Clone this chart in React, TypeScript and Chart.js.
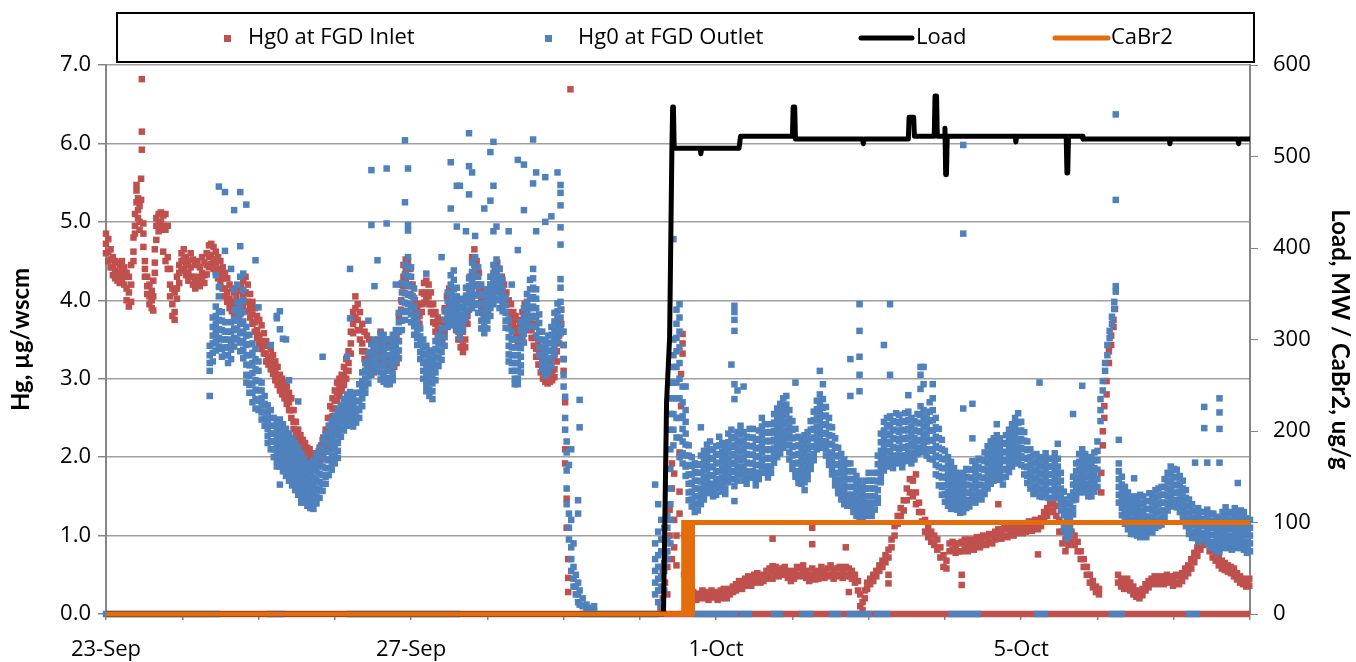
import React, { useEffect, useRef } from "react";
import { Chart, registerables } from "chart.js";

Chart.register(...registerables);

// x values are days since 23-Sep 00:00
const dayLabels = ["23-Sep", "", "", "", "27-Sep", "", "", "", "1-Oct", "", "", "", "5-Oct", "", "", ""];

// Hg0 at FGD Inlet: [day, value, value, ...]
const inletRows: number[][] = [
  [0.0, 4.85, 4.72, 4.6], [0.03, 4.78, 4.62, 4.5], [0.06, 4.65, 4.52, 4.42], [0.09, 4.55, 4.42, 4.32], [0.12, 4.5, 4.38, 4.28],
  [0.15, 4.48, 4.36, 4.25], [0.18, 4.45, 4.33, 4.22], [0.21, 4.5, 4.38, 4.27], [0.24, 4.42, 4.3, 4.2], [0.27, 4.35, 4.15, 4.0],
  [0.3, 4.3, 4.1, 3.92], [0.33, 4.45, 4.2, 3.98], [0.36, 4.62, 4.8, 4.5], [0.38, 4.95, 5.1, 4.85], [0.4, 5.25, 5.4, 5.47],
  [0.42, 5.3, 5.15, 5.05], [0.44, 5.2, 5.0, 4.9], [0.46, 5.55, 5.28], [0.47, 6.82, 6.15, 5.92], [0.49, 4.98, 4.85, 4.68],
  [0.51, 4.5, 4.4, 4.3], [0.54, 4.3, 4.18, 4.08], [0.57, 4.2, 4.05, 3.95], [0.6, 4.12, 4.0, 3.9], [0.62, 4.25, 4.05, 3.87],
  [0.64, 4.48, 4.65, 4.35], [0.66, 4.77, 4.95, 5.05], [0.69, 5.1, 4.98, 4.88], [0.72, 5.12, 5.0, 4.9], [0.75, 5.08, 4.95, 4.62],
  [0.78, 5.1, 4.9, 4.5], [0.81, 4.95, 4.55, 4.4], [0.84, 4.4, 4.2, 4.05], [0.87, 4.15, 3.95, 3.8], [0.9, 4.1, 3.85, 3.75],
  [0.93, 4.3, 4.15, 4.02], [0.96, 4.45, 4.35, 4.22], [0.99, 4.6, 4.5, 4.38], [1.02, 4.65, 4.52, 4.4], [1.05, 4.55, 4.45, 4.32],
  [1.08, 4.5, 4.35, 4.25], [1.11, 4.6, 4.42, 4.3], [1.14, 4.52, 4.3, 4.2], [1.17, 4.45, 4.25, 4.15], [1.2, 4.5, 4.3, 4.2],
  [1.23, 4.42, 4.28, 4.18], [1.26, 4.55, 4.35, 4.25], [1.29, 4.48, 4.32, 4.22], [1.32, 4.6, 4.45, 4.33], [1.35, 4.7, 4.55, 4.42],
  [1.38, 4.72, 4.58, 4.46], [1.41, 4.68, 4.52, 4.4], [1.44, 4.62, 4.48, 4.36], [1.47, 4.55, 4.4, 4.28], [1.5, 4.5, 4.35, 4.22],
  [1.53, 4.42, 4.28, 4.15], [1.56, 4.35, 4.15, 4.05], [1.59, 4.28, 4.1, 3.98], [1.62, 4.2, 4.02, 3.9], [1.65, 4.15, 3.98, 3.86],
  [1.68, 4.1, 3.92, 3.8], [1.71, 4.05, 3.85, 3.75], [1.74, 4.12, 3.9, 3.8], [1.77, 4.18, 3.95, 3.84], [1.8, 4.25, 4.05, 3.92],
  [1.83, 4.3, 4.1, 3.98], [1.86, 4.2, 3.98, 3.86], [1.89, 4.08, 3.9, 3.78], [1.92, 3.98, 3.82, 3.7], [1.95, 3.9, 3.72, 3.6],
  [1.98, 3.8, 3.62, 3.52], [2.01, 3.75, 3.55, 3.45], [2.04, 3.68, 3.48, 3.38], [2.07, 3.58, 3.42, 3.32], [2.1, 3.48, 3.32, 3.22],
  [2.13, 3.42, 3.28, 3.18], [2.16, 3.38, 3.22, 3.12], [2.19, 3.3, 3.15, 3.06], [2.22, 3.22, 3.08, 2.98], [2.25, 3.15, 3.0, 2.92],
  [2.28, 3.05, 2.95, 2.85], [2.31, 3.0, 2.9, 2.8], [2.34, 2.95, 2.85, 2.75], [2.37, 2.9, 2.78, 2.68], [2.4, 2.82, 2.7, 2.6],
  [2.43, 2.75, 2.6, 2.5], [2.46, 2.6, 2.45, 2.36], [2.49, 2.45, 2.35, 2.27], [2.52, 2.35, 2.25, 2.18], [2.55, 2.28, 2.2, 2.12],
  [2.58, 2.22, 2.15, 2.07], [2.61, 2.18, 2.1, 2.03], [2.64, 2.12, 2.05, 1.98], [2.67, 2.1, 2.02, 1.95], [2.7, 2.05, 1.98, 1.92],
  [2.73, 2.05, 1.97, 1.9], [2.76, 2.02, 1.96, 1.9], [2.79, 2.08, 2.0, 1.93], [2.82, 2.15, 2.05, 1.97], [2.85, 2.25, 2.12, 2.04],
  [2.88, 2.35, 2.22, 2.13], [2.91, 2.5, 2.35, 2.25], [2.94, 2.65, 2.5, 2.4], [2.97, 2.75, 2.62, 2.52], [3.0, 2.85, 2.72, 2.62],
  [3.03, 2.95, 2.82, 2.72], [3.06, 3.0, 2.88, 2.78], [3.09, 3.05, 2.95, 2.85], [3.12, 3.15, 3.02, 2.92], [3.15, 3.25, 3.1, 3.0],
  [3.18, 3.35, 3.2, 3.1], [3.21, 3.6, 3.45, 3.32], [3.24, 3.85, 3.7, 3.58], [3.27, 4.05, 3.9, 3.78], [3.3, 3.95, 3.75, 3.62],
  [3.33, 3.85, 3.62, 3.5], [3.36, 3.7, 3.45, 3.35], [3.39, 3.6, 3.35, 3.25], [3.42, 3.55, 3.25, 3.15], [3.45, 3.5, 3.3, 3.18],
  [3.48, 3.45, 3.2, 3.1], [3.51, 3.4, 3.18, 3.08], [3.54, 3.35, 3.2, 3.1], [3.57, 3.5, 3.3, 3.2], [3.6, 3.6, 3.4, 3.28],
  [3.63, 3.55, 3.35, 3.25], [3.66, 3.5, 3.3, 3.2], [3.69, 3.45, 3.28, 3.18], [3.72, 3.5, 3.25, 3.15], [3.75, 3.45, 3.22, 3.12],
  [3.78, 3.48, 3.25, 3.15], [3.81, 3.55, 3.3, 3.2], [3.84, 3.8, 3.6, 3.48], [3.87, 4.2, 4.0, 3.88], [3.9, 4.45, 4.3, 4.18],
  [3.93, 4.52, 4.38, 4.25], [3.96, 4.5, 4.3, 4.18], [3.99, 4.4, 4.2, 4.08], [4.02, 4.2, 4.05, 3.95], [4.05, 4.0, 3.85, 3.75],
  [4.08, 3.9, 3.75, 3.65], [4.11, 3.95, 3.8, 3.7], [4.14, 4.1, 3.95, 3.85], [4.17, 4.22, 4.08, 3.97], [4.2, 4.25, 4.1, 4.0],
  [4.23, 4.2, 4.05, 3.95], [4.26, 4.1, 3.95, 3.85], [4.29, 3.95, 3.82, 3.72], [4.32, 3.85, 3.7, 3.6], [4.35, 3.78, 3.62, 3.52],
  [4.38, 3.72, 3.58, 3.48], [4.41, 3.75, 3.6, 3.5], [4.44, 3.9, 3.7, 3.6], [4.47, 4.05, 3.85, 3.75], [4.5, 4.15, 3.95, 3.85],
  [4.53, 4.1, 3.9, 3.8], [4.56, 4.0, 3.82, 3.72], [4.59, 3.9, 3.72, 3.62], [4.62, 3.8, 3.6, 3.5], [4.65, 3.7, 3.5, 3.4],
  [4.68, 3.6, 3.42, 3.34], [4.71, 3.7, 3.5, 3.4], [4.74, 4.0, 3.8, 3.7], [4.77, 4.3, 4.1, 4.0], [4.8, 4.55, 4.35, 4.25],
  [4.83, 4.65, 4.45, 4.33], [4.86, 4.5, 4.3, 4.2], [4.89, 4.35, 4.2, 4.1], [4.92, 4.15, 4.0, 3.9], [4.95, 4.1, 3.92, 3.82],
  [4.98, 4.05, 3.9, 3.8], [5.01, 4.1, 3.95, 3.85], [5.04, 4.2, 4.05, 3.95], [5.07, 4.3, 4.12, 4.02], [5.1, 4.42, 4.25, 4.15],
  [5.13, 4.48, 4.3, 4.2], [5.16, 4.4, 4.22, 4.12], [5.19, 4.3, 4.15, 4.05], [5.22, 4.2, 4.05, 3.95], [5.25, 4.1, 3.95, 3.85],
  [5.28, 4.0, 3.85, 3.75], [5.31, 3.95, 3.78, 3.68], [5.34, 3.85, 3.72, 3.62], [5.37, 3.8, 3.65, 3.55], [5.4, 3.75, 3.58, 3.48],
  [5.43, 3.7, 3.5, 3.4], [5.46, 3.85, 3.62, 3.52], [5.49, 3.95, 3.75, 3.65], [5.52, 3.98, 3.8, 3.7], [5.55, 3.9, 3.72, 3.62],
  [5.58, 3.8, 3.62, 3.52], [5.61, 3.7, 3.52, 3.42], [5.64, 3.55, 3.38, 3.28], [5.67, 3.45, 3.28, 3.18], [5.7, 3.35, 3.18, 3.08],
  [5.73, 3.25, 3.1, 3.0], [5.76, 3.2, 3.05, 2.96], [5.79, 3.15, 3.02, 2.94], [5.82, 3.2, 3.05, 2.96], [5.85, 3.25, 3.08, 2.98],
  [5.88, 3.3, 3.12, 3.02], [5.91, 3.5, 3.35, 3.22], [5.94, 3.75, 3.55, 3.45], [5.97, 3.88, 3.7, 3.6], [6.0, 3.43, 3.25, 3.1],
  [6.02, 2.7, 2.1, 1.92], [6.04, 1.47, 1.1], [6.06, 0.7, 0.46, 0.28], [6.09, 6.69],
  [7.27, 0.3, 0.08], [7.3, 0.55, 0.2], [7.33, 0.78, 0.96, 0.4], [7.36, 0.6, 0.25], [7.39, 1.33, 1.0],
  [7.42, 1.6, 1.92, 0.7], [7.45, 1.79, 1.2, 0.85], [7.48, 1.0, 0.62], [7.52, 2.06, 1.56, 1.28], [7.54, 2.65, 3.06],
  [7.56, 3.32, 3.45, 3.57], [7.58, 1.0, 0.5], [7.62, 0.42, 0.28], [7.66, 0.3, 0.22], [7.7, 0.28, 0.2],
  [7.74, 0.25, 0.18], [7.78, 0.26, 0.2], [7.82, 0.3, 0.22], [7.86, 0.28, 0.2], [7.9, 0.25, 0.18],
  [7.94, 0.3, 0.22], [7.98, 0.28, 0.21], [8.02, 0.25, 0.18], [8.06, 0.3, 0.2], [8.1, 0.32, 0.24],
  [8.14, 0.28, 0.2], [8.18, 0.32, 0.25], [8.22, 0.35, 0.28], [8.26, 0.38, 0.3], [8.3, 0.42, 0.33],
  [8.34, 0.4, 0.32], [8.38, 0.45, 0.36], [8.42, 0.48, 0.38], [8.46, 0.45, 0.36], [8.5, 0.5, 0.4],
  [8.54, 0.52, 0.42], [8.58, 0.48, 0.4], [8.62, 0.5, 0.42], [8.66, 0.55, 0.45], [8.7, 0.58, 0.48],
  [8.74, 0.55, 0.45, 0.96, 0.61], [8.78, 0.6, 0.5], [8.82, 0.55, 0.48], [8.86, 0.58, 0.5], [8.9, 0.6, 0.52],
  [8.94, 0.55, 0.46], [8.98, 0.5, 0.42], [9.02, 0.55, 0.45], [9.06, 0.6, 0.5], [9.1, 0.58, 0.48],
  [9.14, 0.62, 0.52], [9.18, 0.55, 0.46], [9.22, 0.5, 0.42], [9.26, 0.58, 0.48, 1.1, 0.89], [9.3, 0.52, 0.44],
  [9.34, 0.55, 0.45], [9.38, 0.6, 0.5], [9.42, 0.55, 0.46], [9.46, 0.58, 0.48], [9.5, 0.62, 0.5],
  [9.54, 0.55, 0.45], [9.58, 0.58, 0.48], [9.62, 0.6, 0.5], [9.66, 0.55, 0.46], [9.7, 0.6, 0.5, 0.85],
  [9.74, 0.58, 0.48, 0.28], [9.78, 0.55, 0.45], [9.82, 0.5, 0.4], [9.86, 0.42, 0.3], [9.89, 0.25, 0.1],
  [9.92, 0.15, 0.05], [9.95, 0.3, 0.2], [9.98, 0.4, 0.32], [10.02, 0.45, 0.38], [10.06, 0.5, 0.42],
  [10.1, 0.55, 0.48], [10.14, 0.62, 0.55], [10.18, 0.68, 0.6], [10.22, 0.75, 0.66], [10.26, 0.82, 0.72, 0.5, 0.39],
  [10.3, 0.95, 0.85], [10.34, 1.12, 1.0], [10.38, 1.25, 1.15], [10.42, 1.35, 1.25], [10.46, 1.45, 1.32],
  [10.5, 1.6, 1.45], [10.54, 1.72, 1.55], [10.58, 1.7, 1.5], [10.62, 1.55, 1.4, 2.04, 1.78], [10.66, 1.42, 1.3],
  [10.7, 1.3, 1.18], [10.74, 1.2, 1.05], [10.78, 1.1, 0.98], [10.82, 1.05, 0.92], [10.86, 1.0, 0.88],
  [10.9, 0.95, 0.82], [10.94, 0.85, 0.72], [10.98, 0.75, 0.6], [11.02, 0.68, 0.58], [11.06, 0.9, 0.8],
  [11.1, 0.92, 0.82], [11.14, 0.88, 0.78], [11.18, 0.9, 0.8], [11.22, 0.92, 0.8, 0.5, 0.37], [11.26, 0.95, 0.85],
  [11.3, 0.9, 0.8], [11.34, 0.95, 0.85], [11.38, 0.92, 0.82], [11.42, 0.98, 0.88], [11.46, 0.95, 0.85],
  [11.5, 1.0, 0.9], [11.54, 0.98, 0.88], [11.58, 1.02, 0.92], [11.62, 1.0, 0.9], [11.66, 1.05, 0.95],
  [11.7, 1.08, 0.98, 1.4], [11.74, 1.05, 0.96], [11.78, 1.1, 1.0], [11.82, 1.08, 0.98], [11.86, 1.12, 1.02],
  [11.9, 1.1, 1.0], [11.94, 1.12, 1.03], [11.98, 1.15, 1.05], [12.02, 1.12, 1.03], [12.06, 1.15, 1.05],
  [12.1, 1.18, 1.08], [12.14, 1.15, 1.06], [12.18, 1.2, 1.1], [12.22, 1.18, 1.08, 0.76], [12.26, 1.22, 1.12],
  [12.3, 1.3, 1.2], [12.34, 1.35, 1.25], [12.38, 1.4, 1.3], [12.42, 1.42, 1.32], [12.46, 1.38, 1.25],
  [12.5, 1.2, 1.05], [12.54, 1.05, 0.9], [12.58, 0.95, 0.8], [12.62, 1.0, 0.88], [12.66, 1.05, 0.92],
  [12.7, 1.0, 0.88], [12.74, 0.92, 0.8], [12.78, 0.8, 0.7], [12.82, 0.7, 0.6], [12.86, 0.6, 0.5],
  [12.9, 0.5, 0.4], [12.94, 0.42, 0.34], [12.98, 0.35, 0.28], [13.02, 0.32, 0.25], [13.05, 1.55, 1.8],
  [13.07, 2.15, 2.33], [13.09, 2.5, 2.65], [13.12, 2.8, 2.97], [13.15, 3.2, 3.35], [13.18, 3.43, 3.55],
  [13.21, 3.66, 3.75], [13.23, 3.89], [13.27, 0.5, 0.4], [13.31, 0.45, 0.35], [13.35, 0.42, 0.32],
  [13.39, 0.45, 0.35], [13.43, 0.4, 0.3], [13.47, 0.35, 0.25], [13.51, 0.3, 0.22], [13.55, 0.28, 0.2],
  [13.59, 0.32, 0.24], [13.63, 0.38, 0.3], [13.67, 0.42, 0.34], [13.71, 0.45, 0.38], [13.75, 0.48, 0.4],
  [13.79, 0.45, 0.38], [13.83, 0.48, 0.4], [13.87, 0.45, 0.38], [13.91, 0.5, 0.42], [13.95, 0.48, 0.4],
  [13.99, 0.45, 0.36], [14.03, 0.5, 0.4], [14.07, 0.48, 0.38], [14.11, 0.52, 0.42], [14.15, 0.58, 0.48],
  [14.19, 0.62, 0.52], [14.23, 0.7, 0.58], [14.27, 0.78, 0.66], [14.31, 0.85, 0.74], [14.35, 0.92, 0.82],
  [14.39, 0.98, 0.88], [14.43, 1.0, 0.9], [14.47, 0.9, 0.8], [14.51, 0.82, 0.72], [14.55, 0.78, 0.68],
  [14.59, 0.72, 0.62], [14.63, 0.68, 0.58], [14.67, 0.65, 0.56], [14.71, 0.62, 0.54], [14.75, 0.6, 0.52],
  [14.79, 0.58, 0.48], [14.83, 0.52, 0.44], [14.87, 0.48, 0.4], [14.91, 0.45, 0.38], [14.95, 0.42, 0.35],
  [14.99, 0.45, 0.36],
];

// Hg0 at FGD Outlet: [day, value, value, ...]
const outletRows: number[][] = [
  [1.36, 3.42, 3.3, 3.2, 3.1, 2.78], [1.4, 3.78, 3.66, 3.55, 3.45, 3.33, 3.22], [1.44, 3.92, 3.8, 3.7, 3.58, 3.47, 3.36, 4.32],
  [1.48, 4.17, 4.05, 3.86, 3.75, 3.63, 3.52, 3.41, 5.45], [1.52, 3.85, 3.74, 3.62, 3.5, 3.38, 3.28],
  [1.56, 3.72, 3.6, 3.5, 3.4, 3.3, 5.38, 4.63], [1.6, 3.6, 3.5, 3.4, 3.3, 3.2], [1.64, 3.72, 3.6, 3.48, 3.37, 3.25, 4.4],
  [1.68, 3.88, 3.76, 3.64, 3.52, 3.41, 5.15, 4.13], [1.72, 3.98, 3.86, 3.74, 3.62, 3.5, 4.2],
  [1.76, 3.94, 3.82, 3.7, 3.58, 3.46, 3.35, 4.3, 4.69, 5.38], [1.8, 3.85, 3.73, 3.6, 3.48, 3.37, 3.26, 4.34, 4.0, 4.13],
  [1.84, 3.66, 3.55, 3.43, 3.3, 3.18, 3.05, 2.95, 5.22], [1.88, 3.56, 3.44, 3.3, 3.17, 3.04, 2.92, 2.82],
  [1.92, 3.45, 3.33, 3.2, 3.07, 2.94, 2.82, 2.7], [1.96, 3.38, 3.25, 3.12, 2.98, 2.86, 2.74, 2.62, 4.51],
  [2.0, 3.22, 3.1, 2.97, 2.85, 2.72, 2.6, 3.91], [2.04, 2.95, 2.85, 2.75, 2.66, 2.57, 2.48], [2.08, 2.78, 2.68, 2.58, 2.49, 2.4],
  [2.12, 2.66, 2.56, 2.46, 2.36, 2.27, 2.18], [2.16, 2.6, 2.5, 2.4, 2.3, 2.2, 2.1, 3.43], [2.2, 2.5, 2.4, 2.3, 2.2, 2.1, 2.0],
  [2.24, 2.44, 2.35, 2.25, 2.15, 2.05, 1.95, 1.88, 3.77, 3.8], [2.28, 2.48, 2.38, 2.28, 2.18, 2.08, 1.98, 1.88, 3.63, 3.86, 1.65],
  [2.32, 2.42, 2.32, 2.22, 2.12, 2.02, 1.92, 1.82, 3.51], [2.36, 2.36, 2.26, 2.16, 2.06, 1.96, 1.86, 1.76, 3.5],
  [2.4, 2.3, 2.2, 2.1, 2.0, 1.9, 1.8, 1.7, 2.98], [2.44, 2.24, 2.14, 2.04, 1.94, 1.84, 1.74, 1.64],
  [2.48, 2.18, 2.08, 1.98, 1.88, 1.78, 1.68, 1.58], [2.52, 2.12, 2.02, 1.92, 1.82, 1.72, 1.62, 1.52, 2.71],
  [2.56, 2.05, 1.95, 1.85, 1.75, 1.65, 1.55, 1.45, 1.42], [2.6, 1.98, 1.88, 1.78, 1.68, 1.58, 1.5, 1.42],
  [2.64, 1.92, 1.82, 1.72, 1.63, 1.54, 1.46, 1.38], [2.68, 1.9, 1.8, 1.7, 1.61, 1.52, 1.43, 1.35],
  [2.72, 1.96, 1.85, 1.74, 1.64, 1.54, 1.44, 1.34], [2.76, 2.04, 1.93, 1.82, 1.71, 1.6, 1.5, 1.41],
  [2.8, 2.12, 2.01, 1.9, 1.79, 1.68, 1.58, 1.48], [2.84, 2.22, 2.1, 1.99, 1.88, 1.77, 1.66, 1.57, 3.28],
  [2.88, 2.3, 2.19, 2.08, 1.97, 1.86, 1.75, 1.66], [2.92, 2.4, 2.29, 2.18, 2.07, 1.96, 1.86, 1.77],
  [2.96, 2.46, 2.35, 2.24, 2.13, 2.02, 1.92, 1.84], [3.0, 2.53, 2.42, 2.31, 2.2, 2.1, 2.0, 1.92],
  [3.04, 2.6, 2.49, 2.38, 2.28, 2.18, 2.08, 1.99], [3.08, 2.66, 2.56, 2.46, 2.36, 2.26], [3.12, 2.74, 2.64, 2.54, 2.44, 2.34],
  [3.16, 2.8, 2.7, 2.6, 2.5, 2.4, 3.28], [3.2, 2.83, 2.73, 2.63, 2.53, 2.44, 4.4, 3.77], [3.24, 2.78, 2.68, 2.58, 2.48, 2.39],
  [3.28, 2.82, 2.72, 2.62, 2.52, 2.44], [3.32, 2.93, 2.82, 2.71, 2.6, 2.5], [3.36, 3.08, 2.97, 2.86, 2.75, 2.65],
  [3.4, 3.2, 3.1, 3.0, 2.9, 2.82], [3.44, 3.33, 3.23, 3.13, 3.03, 2.94, 3.74], [3.48, 3.44, 3.34, 3.24, 3.14, 3.05, 5.66, 4.96],
  [3.52, 3.5, 3.4, 3.3, 3.2, 3.12, 4.18], [3.56, 3.48, 3.38, 3.28, 3.18, 3.1, 4.51], [3.6, 3.58, 3.48, 3.38, 3.28, 3.18, 3.08, 2.99],
  [3.64, 3.56, 3.46, 3.36, 3.26, 3.16, 3.06, 2.96], [3.68, 3.5, 3.4, 3.3, 3.2, 3.1, 3.0, 2.93, 5.68, 4.98],
  [3.72, 3.5, 3.4, 3.3, 3.2, 3.1, 3.01, 2.93], [3.76, 3.56, 3.46, 3.36, 3.26, 3.16, 3.06, 2.98], [3.8, 3.62, 3.52, 3.42, 3.32, 3.22, 4.2],
  [3.84, 3.84, 3.72, 3.6, 3.48, 3.36, 3.26], [3.88, 4.22, 4.1, 3.98, 3.86, 3.74, 3.62],
  [3.92, 4.45, 4.33, 4.21, 4.09, 3.97, 3.85, 3.75, 6.04, 5.25], [3.96, 4.55, 4.43, 4.31, 4.19, 4.07, 3.95, 3.86, 4.96, 5.68, 4.89],
  [4.0, 4.42, 4.3, 4.18, 4.06, 3.94, 3.82, 3.72], [4.04, 4.15, 4.03, 3.91, 3.79, 3.67, 3.56], [4.08, 3.82, 3.72, 3.62, 3.52, 3.43],
  [4.12, 3.64, 3.54, 3.44, 3.34, 3.25], [4.16, 3.5, 3.4, 3.3, 3.2, 3.1, 3.0], [4.2, 3.42, 3.32, 3.22, 3.12, 3.02, 2.92, 2.84, 4.34],
  [4.24, 3.36, 3.26, 3.16, 3.06, 2.96, 2.86, 2.78], [4.28, 3.34, 3.24, 3.14, 3.04, 2.94, 2.84, 2.74],
  [4.32, 3.48, 3.38, 3.28, 3.18, 3.08, 2.98], [4.36, 3.56, 3.46, 3.36, 3.26, 3.16], [4.4, 3.64, 3.54, 3.44, 3.34, 3.24, 4.55],
  [4.44, 3.86, 3.75, 3.64, 3.53, 3.42], [4.48, 4.1, 3.99, 3.88, 3.77, 3.66], [4.52, 4.32, 4.2, 4.08, 3.96, 3.84, 3.72, 5.76, 5.17],
  [4.56, 4.38, 4.26, 4.14, 4.02, 3.9, 3.78, 3.68], [4.6, 4.16, 4.05, 3.94, 3.83, 3.72, 3.62, 5.46, 4.94],
  [4.64, 4.0, 3.9, 3.8, 3.7, 3.6, 3.52, 5.46], [4.68, 4.02, 3.92, 3.82, 3.72, 3.63], [4.72, 4.16, 4.06, 3.96, 3.86, 3.77, 4.88],
  [4.76, 4.28, 4.18, 4.08, 3.98, 3.88, 5.71, 6.13, 5.35], [4.8, 4.48, 4.36, 4.24, 4.12, 4.0, 3.9, 5.63],
  [4.84, 4.55, 4.43, 4.31, 4.19, 4.07, 3.96, 4.82], [4.88, 4.42, 4.3, 4.18, 4.06, 3.94, 3.84],
  [4.92, 4.2, 4.08, 3.96, 3.85, 3.74, 3.64], [4.96, 4.06, 3.96, 3.86, 3.76, 3.66, 3.58, 5.17],
  [5.0, 4.14, 4.04, 3.94, 3.84, 3.74, 3.64], [5.04, 4.3, 4.2, 4.1, 4.0, 3.9, 3.8, 5.89, 5.27],
  [5.08, 4.45, 4.35, 4.25, 4.15, 4.05, 3.95, 6.02, 5.46, 4.88], [5.12, 4.52, 4.42, 4.32, 4.22, 4.12, 4.02, 4.94],
  [5.16, 4.4, 4.3, 4.2, 4.1, 4.0, 3.9], [5.2, 4.26, 4.16, 4.06, 3.96, 3.86], [5.24, 4.04, 3.94, 3.84, 3.74, 3.65],
  [5.28, 3.75, 3.64, 3.53, 3.42, 3.31, 3.22, 4.88], [5.32, 3.6, 3.5, 3.4, 3.3, 3.2, 3.1, 4.2],
  [5.36, 3.5, 3.4, 3.3, 3.2, 3.1, 3.0, 2.93], [5.4, 3.5, 3.4, 3.3, 3.2, 3.1, 3.0, 2.93, 5.79, 4.64],
  [5.44, 3.72, 3.61, 3.5, 3.39, 3.28, 3.17, 3.08], [5.48, 3.9, 3.79, 3.68, 3.57, 3.46, 5.73, 5.15],
  [5.52, 4.08, 3.97, 3.86, 3.75, 3.65], [5.56, 4.26, 4.14, 4.02, 3.9, 3.78, 3.67],
  [5.6, 4.4, 4.28, 4.16, 4.04, 3.92, 3.8, 6.05, 5.49], [5.64, 4.14, 4.02, 3.9, 3.78, 3.66, 3.55, 4.88, 5.63],
  [5.68, 3.82, 3.71, 3.6, 3.5, 3.4, 3.3], [5.72, 3.6, 3.5, 3.4, 3.3, 3.2, 3.12], [5.76, 3.48, 3.38, 3.28, 3.18, 3.1, 3.04, 5.57, 5.0],
  [5.8, 3.55, 3.45, 3.35, 3.25, 3.15, 3.08], [5.84, 3.66, 3.56, 3.46, 3.36, 3.26, 3.16, 5.07],
  [5.88, 3.84, 3.73, 3.62, 3.51, 3.4, 3.32], [5.92, 3.96, 3.86, 3.76, 3.66, 3.56, 3.48, 5.63],
  [5.96, 3.98, 3.88, 3.78, 3.68, 3.58, 5.47, 5.37, 5.21, 4.93, 4.71, 4.27, 4.16],
  [6.0, 3.6, 3.43, 3.25, 3.05, 2.9], [6.02, 2.77, 2.5, 2.35], [6.04, 2.2, 2.06, 1.83, 1.6, 1.4], [6.07, 1.9, 1.28, 1.1, 0.95],
  [6.1, 2.1, 1.2, 0.85, 0.7, 0.55], [6.13, 0.9, 0.6, 0.45, 0.35], [6.16, 0.5, 0.35, 0.25], [6.19, 1.45, 1.28, 0.4, 0.25, 0.15],
  [6.21, 2.73, 2.38, 0.3, 0.12], [6.25, 0.2, 0.1], [6.3, 0.12, 0.05], [6.35, 0.08, 0.03], [6.4, 0.1, 0.04],
  [7.2, 1.65, 0.9, 0.7, 0.55, 0.4, 0.25], [7.24, 1.4, 1.05, 0.75, 0.6, 0.45, 0.3, 0.15], [7.28, 1.2, 0.95, 0.8, 0.6, 0.48, 0.35, 0.1],
  [7.32, 1.1, 0.95, 0.8, 0.65, 0.55, 0.3], [7.36, 1.4, 1.25, 1.1, 0.95, 0.8, 0.7],
  [7.4, 2.95, 2.75, 2.55, 2.35, 2.1, 1.85, 1.6, 1.4, 1.2, 0.9], [7.44, 3.5, 3.3, 3.15, 2.95, 2.75, 2.55, 2.35, 2.15, 4.78],
  [7.48, 3.88, 3.7, 3.52, 3.35, 3.15, 2.95, 2.75, 2.5, 2.25], [7.52, 3.95, 3.78, 3.6, 3.4, 3.2, 3.0, 2.75, 2.5, 2.25, 2.0],
  [7.56, 2.9, 2.7, 2.52, 2.36, 2.2, 2.05, 1.92], [7.6, 2.6, 2.45, 2.3, 2.16, 2.02, 1.88, 1.76, 2.9],
  [7.64, 2.15, 2.02, 1.9, 1.78, 1.66, 1.55, 1.45], [7.68, 2.0, 1.89, 1.78, 1.67, 1.56, 1.46, 1.37],
  [7.72, 1.92, 1.81, 1.7, 1.6, 1.5, 1.4, 1.3], [7.76, 1.9, 1.8, 1.7, 1.6, 1.5, 1.41, 1.32],
  [7.8, 2.02, 1.91, 1.8, 1.69, 1.58, 1.48, 1.4, 2.38], [7.84, 2.08, 1.97, 1.86, 1.75, 1.64, 1.54, 1.46],
  [7.88, 2.16, 2.05, 1.94, 1.83, 1.72, 1.62, 1.54], [7.92, 2.2, 2.09, 1.98, 1.87, 1.76, 1.66, 1.58],
  [7.96, 2.1, 1.99, 1.88, 1.77, 1.66, 1.56, 1.5], [8.0, 2.14, 2.03, 1.92, 1.81, 1.7, 1.6, 1.52],
  [8.04, 2.26, 2.15, 2.04, 1.93, 1.82, 1.72, 1.63], [8.08, 2.18, 2.07, 1.96, 1.85, 1.74, 1.64, 1.56],
  [8.12, 2.14, 2.03, 1.92, 1.81, 1.7, 1.6, 1.53], [8.16, 2.3, 2.19, 2.08, 1.97, 1.86, 1.76, 1.68],
  [8.2, 2.35, 2.24, 2.13, 2.02, 1.91, 1.81, 1.72, 3.18],
  [8.24, 2.26, 2.15, 2.04, 1.93, 1.82, 1.72, 1.63, 3.93, 3.75, 3.85, 3.61, 2.93, 2.74, 1.44],
  [8.28, 2.32, 2.21, 2.1, 1.99, 1.88, 1.78, 1.7, 2.85], [8.32, 2.4, 2.29, 2.18, 2.07, 1.96, 1.86, 1.78],
  [8.36, 2.32, 2.21, 2.1, 1.99, 1.88, 1.78, 1.7, 2.9], [8.4, 2.26, 2.15, 2.04, 1.93, 1.82, 1.73, 1.66],
  [8.44, 2.36, 2.25, 2.14, 2.03, 1.92, 1.82, 1.74], [8.48, 2.36, 2.25, 2.14, 2.03, 1.92, 1.82, 1.74],
  [8.52, 2.22, 2.11, 2.0, 1.9, 1.8, 1.71, 1.64], [8.56, 2.34, 2.23, 2.12, 2.01, 1.9, 1.8, 1.72],
  [8.6, 2.5, 2.39, 2.28, 2.17, 2.06, 1.96, 1.88], [8.64, 2.42, 2.31, 2.2, 2.09, 1.98, 1.88, 1.8],
  [8.68, 2.32, 2.21, 2.1, 1.99, 1.88, 1.8, 1.74], [8.72, 2.42, 2.31, 2.2, 2.09, 1.98, 1.88, 1.8],
  [8.76, 2.55, 2.44, 2.33, 2.22, 2.11, 2.01, 1.93], [8.8, 2.62, 2.51, 2.4, 2.29, 2.18, 2.08, 2.0],
  [8.84, 2.68, 2.57, 2.46, 2.35, 2.24, 2.14, 2.05], [8.88, 2.75, 2.64, 2.53, 2.42, 2.31, 2.21, 2.12],
  [8.92, 2.78, 2.67, 2.56, 2.45, 2.34, 2.24, 2.15], [8.96, 2.6, 2.49, 2.38, 2.27, 2.16, 2.06, 1.97],
  [9.0, 2.46, 2.35, 2.24, 2.13, 2.02, 1.92, 1.85], [9.04, 2.36, 2.25, 2.14, 2.03, 1.92, 1.82, 1.75, 2.95],
  [9.08, 2.26, 2.15, 2.04, 1.93, 1.82, 1.73, 1.67], [9.12, 2.22, 2.11, 2.0, 1.9, 1.8, 1.72, 1.66],
  [9.16, 2.28, 2.17, 2.06, 1.95, 1.84, 1.75, 1.68, 1.58], [9.2, 2.32, 2.21, 2.1, 1.99, 1.88, 1.79, 1.72],
  [9.24, 2.46, 2.35, 2.24, 2.13, 2.02, 1.92, 1.85], [9.28, 2.58, 2.47, 2.36, 2.25, 2.14, 2.04, 1.96],
  [9.32, 2.72, 2.61, 2.5, 2.39, 2.28, 2.18, 2.1], [9.36, 2.8, 2.69, 2.58, 2.47, 2.36, 2.26, 2.18, 3.1],
  [9.4, 2.74, 2.63, 2.52, 2.41, 2.3, 2.2, 2.12, 2.93], [9.44, 2.64, 2.53, 2.42, 2.31, 2.2, 2.1, 2.02],
  [9.48, 2.5, 2.39, 2.28, 2.17, 2.06, 1.97, 1.9], [9.52, 2.38, 2.27, 2.16, 2.05, 1.94, 1.85, 1.78],
  [9.56, 2.24, 2.13, 2.02, 1.91, 1.8, 1.71, 1.64], [9.6, 2.12, 2.01, 1.9, 1.79, 1.68, 1.6, 1.54],
  [9.64, 2.04, 1.93, 1.82, 1.71, 1.6, 1.52, 1.46], [9.68, 1.97, 1.86, 1.75, 1.64, 1.54, 1.46, 1.4],
  [9.72, 1.92, 1.82, 1.72, 1.62, 1.52, 1.44, 1.38], [9.76, 1.92, 1.82, 1.72, 1.62, 1.52, 1.44, 1.38, 3.25, 2.78],
  [9.8, 1.82, 1.72, 1.62, 1.52, 1.43, 1.36, 1.3], [9.84, 1.76, 1.66, 1.56, 1.46, 1.37, 1.3, 1.25],
  [9.88, 1.7, 1.6, 1.5, 1.41, 1.33, 1.26, 1.2, 3.95, 3.61, 2.84, 3.28, 3.05], [9.92, 1.62, 1.53, 1.44, 1.36, 1.28, 1.22],
  [9.96, 1.7, 1.6, 1.5, 1.41, 1.33, 1.25], [10.0, 1.8, 1.7, 1.6, 1.5, 1.41, 1.33, 1.26], [10.04, 1.7, 1.6, 1.5, 1.41, 1.33, 1.25],
  [10.08, 1.8, 1.7, 1.6, 1.5, 1.41, 1.33], [10.12, 2.02, 1.91, 1.8, 1.69, 1.58, 1.48, 1.42],
  [10.16, 2.3, 2.19, 2.08, 1.97, 1.86, 1.76, 1.68], [10.2, 2.45, 2.34, 2.23, 2.12, 2.01, 1.91, 1.83, 3.43],
  [10.24, 2.5, 2.39, 2.28, 2.17, 2.06, 1.96, 1.88], [10.28, 2.52, 2.41, 2.3, 2.19, 2.08, 1.98, 1.9, 3.95, 3.05],
  [10.32, 2.46, 2.35, 2.24, 2.13, 2.02, 1.93, 1.86], [10.36, 2.56, 2.45, 2.34, 2.23, 2.12, 2.02, 1.95],
  [10.4, 2.54, 2.43, 2.32, 2.21, 2.1, 2.0, 1.92], [10.44, 2.46, 2.35, 2.24, 2.13, 2.02, 1.93, 1.87],
  [10.48, 2.56, 2.45, 2.34, 2.23, 2.12, 2.02, 1.95], [10.52, 2.58, 2.47, 2.36, 2.25, 2.14, 2.04, 1.97, 2.79],
  [10.56, 2.5, 2.39, 2.28, 2.17, 2.06, 1.98, 1.92], [10.6, 2.46, 2.35, 2.24, 2.14, 2.05, 1.97],
  [10.64, 2.55, 2.44, 2.33, 2.22, 2.12, 2.04], [10.68, 2.65, 2.54, 2.43, 2.32, 2.21, 2.12, 2.06, 3.15, 3.05, 2.87],
  [10.72, 2.6, 2.49, 2.38, 2.27, 2.17, 2.08, 3.15, 2.93], [10.76, 2.52, 2.41, 2.3, 2.2, 2.1, 2.02],
  [10.8, 2.7, 2.58, 2.46, 2.34, 2.22, 2.1, 1.98], [10.84, 2.93, 2.75, 2.6, 2.47, 2.34, 2.21, 2.08, 1.97],
  [10.88, 2.5, 2.38, 2.26, 2.14, 2.02, 1.9, 1.78], [10.92, 2.36, 2.24, 2.12, 2.0, 1.88, 1.76, 1.64],
  [10.96, 2.22, 2.1, 1.98, 1.86, 1.74, 1.62, 1.52], [11.0, 2.08, 1.97, 1.86, 1.75, 1.64, 1.53, 1.43],
  [11.04, 2.0, 1.89, 1.78, 1.67, 1.56, 1.46, 1.38], [11.08, 1.94, 1.83, 1.72, 1.61, 1.5, 1.41, 1.34],
  [11.12, 1.86, 1.76, 1.66, 1.56, 1.46, 1.38], [11.16, 1.8, 1.7, 1.6, 1.5, 1.41, 1.33], [11.2, 1.76, 1.66, 1.56, 1.46, 1.37, 1.29],
  [11.24, 1.8, 1.7, 1.6, 1.5, 1.4, 1.3, 5.98, 4.85, 2.62], [11.28, 1.85, 1.75, 1.65, 1.55, 1.45, 1.35],
  [11.32, 1.84, 1.74, 1.64, 1.54, 1.45, 1.37], [11.36, 1.95, 1.84, 1.73, 1.62, 1.52, 1.44, 2.68, 2.24],
  [11.4, 1.9, 1.8, 1.7, 1.6, 1.5, 1.42], [11.44, 1.98, 1.87, 1.76, 1.65, 1.55, 1.47], [11.48, 1.96, 1.85, 1.74, 1.64, 1.54, 1.46],
  [11.52, 2.06, 1.95, 1.84, 1.73, 1.62, 1.53], [11.56, 2.14, 2.03, 1.92, 1.81, 1.7, 1.6], [11.6, 2.2, 2.09, 1.98, 1.87, 1.76, 1.66],
  [11.64, 2.24, 2.13, 2.02, 1.91, 1.8, 1.7], [11.68, 2.28, 2.17, 2.06, 1.95, 1.84, 1.75, 2.42],
  [11.72, 2.24, 2.13, 2.02, 1.91, 1.8, 1.71], [11.76, 2.18, 2.07, 1.96, 1.85, 1.74, 1.65], [11.8, 2.28, 2.17, 2.06, 1.95, 1.84, 1.75],
  [11.84, 2.35, 2.24, 2.13, 2.02, 1.91, 1.81], [11.88, 2.42, 2.31, 2.2, 2.09, 1.98, 1.88], [11.92, 2.5, 2.38, 2.26, 2.14, 2.02, 1.92],
  [11.96, 2.56, 2.44, 2.32, 2.2, 2.08, 1.96], [12.0, 2.45, 2.34, 2.23, 2.12, 2.01, 1.9], [12.04, 2.32, 2.21, 2.1, 1.99, 1.88, 1.78],
  [12.08, 2.2, 2.09, 1.98, 1.87, 1.76, 1.67], [12.12, 2.1, 2.0, 1.9, 1.8, 1.7, 1.6], [12.16, 2.02, 1.92, 1.82, 1.72, 1.62, 1.53],
  [12.2, 2.04, 1.94, 1.84, 1.74, 1.64, 1.54], [12.24, 2.0, 1.9, 1.8, 1.7, 1.6, 1.5, 2.95], [12.28, 1.98, 1.88, 1.78, 1.68, 1.58, 1.49],
  [12.32, 2.05, 1.95, 1.85, 1.75, 1.65, 1.55], [12.36, 1.98, 1.88, 1.78, 1.68, 1.58, 1.48], [12.4, 1.98, 1.88, 1.78, 1.68, 1.58, 1.48],
  [12.44, 2.05, 1.95, 1.85, 1.75, 1.65, 1.55], [12.48, 1.98, 1.88, 1.78, 1.68, 1.58, 1.48, 2.17],
  [12.52, 1.8, 1.7, 1.6, 1.5, 1.4, 1.32], [12.56, 1.56, 1.46, 1.36, 1.26, 1.16, 1.08], [12.6, 1.42, 1.32, 1.22, 1.12, 1.03, 0.96],
  [12.64, 1.5, 1.4, 1.3, 1.2, 1.1, 1.02], [12.68, 1.75, 1.65, 1.55, 1.45, 1.35, 1.27, 2.55], [12.72, 1.92, 1.82, 1.72, 1.62, 1.53, 1.46],
  [12.76, 2.04, 1.94, 1.84, 1.74, 1.64, 1.55], [12.8, 2.1, 2.0, 1.9, 1.8, 1.7, 1.6, 2.91], [12.84, 2.04, 1.94, 1.84, 1.74, 1.64, 1.55],
  [12.88, 1.96, 1.86, 1.76, 1.66, 1.57, 1.5], [12.92, 2.0, 1.9, 1.8, 1.7, 1.6, 1.5], [12.96, 2.06, 1.96, 1.86, 1.76, 1.66, 1.56],
  [13.0, 2.2, 2.08, 1.96, 1.84, 1.72, 1.62], [13.04, 2.74, 2.6, 2.46], [13.07, 2.97, 2.85], [13.1, 3.2, 3.1], [13.13, 3.43, 3.3],
  [13.16, 3.61, 3.52], [13.19, 3.79, 3.7], [13.22, 3.98, 3.89], [13.24, 4.18, 4.11, 6.37, 5.28],
  [13.28, 1.92, 1.82, 1.72, 1.62, 1.52, 1.42, 2.22], [13.32, 1.75, 1.65, 1.55, 1.45, 1.35, 1.26],
  [13.36, 1.62, 1.52, 1.42, 1.32, 1.23, 1.15], [13.4, 1.55, 1.45, 1.35, 1.25, 1.16, 1.08], [13.44, 1.48, 1.38, 1.28, 1.18, 1.09, 1.02],
  [13.48, 1.5, 1.4, 1.3, 1.2, 1.1, 1.02, 1.73], [13.52, 1.46, 1.36, 1.26, 1.16, 1.07, 1.0], [13.56, 1.42, 1.32, 1.22, 1.12, 1.04, 0.98, 1.52],
  [13.6, 1.5, 1.4, 1.3, 1.2, 1.1, 1.02], [13.64, 1.44, 1.34, 1.24, 1.14, 1.05, 0.98], [13.68, 1.54, 1.44, 1.34, 1.24, 1.14, 1.06],
  [13.72, 1.52, 1.42, 1.32, 1.22, 1.12, 1.04], [13.76, 1.58, 1.48, 1.38, 1.28, 1.18, 1.1], [13.8, 1.6, 1.5, 1.4, 1.3, 1.2, 1.12],
  [13.84, 1.62, 1.52, 1.42, 1.32, 1.22, 1.14], [13.88, 1.72, 1.62, 1.52, 1.42, 1.32, 1.24], [13.92, 1.8, 1.7, 1.6, 1.5, 1.4, 1.32],
  [13.96, 1.88, 1.78, 1.68, 1.58, 1.48, 1.39], [14.0, 1.85, 1.75, 1.65, 1.55, 1.45, 1.37], [14.04, 1.84, 1.74, 1.64, 1.54, 1.44, 1.36],
  [14.08, 1.76, 1.66, 1.56, 1.46, 1.37, 1.3], [14.12, 1.7, 1.6, 1.5, 1.4, 1.31, 1.24], [14.16, 1.58, 1.48, 1.38, 1.29, 1.2, 1.12],
  [14.2, 1.46, 1.37, 1.28, 1.19, 1.1, 1.02], [14.24, 1.4, 1.31, 1.22, 1.13, 1.04, 0.97], [14.28, 1.32, 1.23, 1.14, 1.05, 0.97, 1.93],
  [14.32, 1.35, 1.26, 1.17, 1.08, 0.99, 0.92], [14.36, 1.3, 1.21, 1.12, 1.03, 0.95], [14.4, 1.3, 1.21, 1.12, 1.03, 0.95, 2.64, 2.37],
  [14.44, 1.33, 1.24, 1.15, 1.06, 0.97, 0.9, 1.93], [14.48, 1.28, 1.19, 1.1, 1.01, 0.92, 0.85],
  [14.52, 1.28, 1.19, 1.1, 1.01, 0.92, 0.84], [14.56, 1.24, 1.15, 1.06, 0.97, 0.88, 0.8],
  [14.6, 1.22, 1.13, 1.04, 0.95, 0.86, 0.79, 2.75, 2.57, 2.36, 1.93], [14.64, 1.3, 1.2, 1.1, 1.0, 0.91, 0.84],
  [14.68, 1.36, 1.26, 1.16, 1.06, 0.96, 0.88], [14.72, 1.3, 1.2, 1.1, 1.0, 0.91, 0.84], [14.76, 1.28, 1.18, 1.08, 0.98, 0.89, 0.82],
  [14.8, 1.35, 1.25, 1.15, 1.05, 0.95, 0.87], [14.84, 1.3, 1.2, 1.1, 1.0, 0.91, 0.84, 1.67], [14.88, 1.32, 1.22, 1.12, 1.02, 0.93, 0.85],
  [14.92, 1.3, 1.2, 1.1, 1.0, 0.9, 0.82], [14.96, 1.22, 1.12, 1.02, 0.92, 0.84, 0.78], [15.0, 1.2, 1.1, 1.0, 0.9, 0.8],
];

// stretches where each analyser read 0 : [start day, end day]
const inletZeroRuns: number[][] = [[0, 15]];
const outletZeroRuns: number[][] = [
  [0, 1.45], [2.15, 2.3], [3.2, 4.6], [6.25, 7.2], [7.75, 8.04], [8.12, 8.25], [8.35, 8.43], [8.76, 8.84],
  [9.13, 9.23], [9.52, 9.6], [9.75, 9.85], [9.93, 10.0], [10.11, 10.24], [11.09, 11.25], [11.3, 11.43],
  [12.21, 12.31], [13.19, 13.32], [14.2, 14.3],
];

// Load, MW : [day, MW]
const loadSeries: number[][] = [
  [0, 0], [7.31, 0], [7.35, 231], [7.39, 302], [7.42, 509], [7.43, 554], [7.44, 554], [7.45, 509],
  [7.79, 509], [7.8, 503], [7.81, 509], [8.3, 509], [8.32, 522], [9.0, 522], [9.01, 554], [9.03, 554],
  [9.04, 519], [9.92, 519], [9.93, 514], [9.94, 519], [10.52, 519], [10.53, 543], [10.59, 543], [10.6, 522],
  [10.86, 522], [10.87, 566], [10.89, 566], [10.9, 522], [10.99, 522], [11.0, 531], [11.01, 480], [11.02, 480],
  [11.03, 522], [11.92, 522], [11.93, 516], [11.94, 522], [12.59, 522], [12.6, 482], [12.61, 482], [12.62, 522],
  [12.8, 522], [12.81, 519], [13.94, 519], [13.95, 514], [13.96, 519], [14.84, 519], [14.85, 514], [14.86, 519],
  [15, 519],
];

// CaBr2, ug/g : [day, value]
const cabr2Series: number[][] = [
  [0, 0], [7.57, 0], [7.575, 100], [7.63, 100], [7.635, 0], [7.685, 0], [7.69, 100], [15, 100],
];

const RED = "#C0504D";
const BLUE = "#4F81BD";
const ORANGE = "#E46C0A";
const GRID = "#a0a0a0";
const AXIS = "#868686";
const FONT = "'Open Sans', 'Noto Sans', Lato, sans-serif";
const TITLE_FONT = "Lato, 'Open Sans', sans-serif";

const rowsToPoints = (rows: number[][]) =>
  rows.flatMap(([d, ...vs]) => vs.map((v) => ({ x: d, y: v })));
const runsToPoints = (runs: number[][]) =>
  runs.flatMap(([a, b]) => [{ x: a, y: 0 }, { x: b, y: 0 }, { x: b, y: null as number | null }]);
const pairsToPoints = (pairs: number[][]) => pairs.map(([x, y]) => ({ x, y }));

const legendPlugin = {
  id: "boxLegend",
  afterDraw(chart: any) {
    const ctx = chart.ctx as CanvasRenderingContext2D;
    ctx.save();
    ctx.strokeStyle = "#000";
    ctx.lineWidth = 2;
    ctx.strokeRect(117, 13, 1137, 49);
    const cy = 38;
    ctx.font = `22px ${FONT}`;
    ctx.textBaseline = "middle";
    ctx.fillStyle = RED;
    ctx.fillRect(224, cy - 3, 7, 7);
    ctx.fillStyle = "#000";
    ctx.fillText("Hg0 at FGD Inlet", 248, cy);
    ctx.fillStyle = BLUE;
    ctx.fillRect(545, cy - 3, 7, 7);
    ctx.fillStyle = "#000";
    ctx.fillText("Hg0 at FGD Outlet", 578, cy);
    ctx.lineWidth = 5;
    ctx.lineCap = "round";
    ctx.strokeStyle = "#000";
    ctx.beginPath();
    ctx.moveTo(861, cy);
    ctx.lineTo(912, cy);
    ctx.stroke();
    ctx.fillText("Load", 916, cy);
    ctx.strokeStyle = ORANGE;
    ctx.beginPath();
    ctx.moveTo(1055, cy);
    ctx.lineTo(1108, cy);
    ctx.stroke();
    ctx.fillText("CaBr2", 1111, cy);
    ctx.restore();
  },
};

export default function App() {
  const ref = useRef<HTMLCanvasElement>(null);

  useEffect(() => {
    if (!ref.current) return;
    const tickFont = { family: FONT, size: 22 };
    const titleFont = { family: TITLE_FONT, size: 24, weight: "bold" as const };
    const scatterBase = {
      type: "scatter",
      pointStyle: "rect",
      pointRadius: 4.6,
      pointBorderWidth: 0,
      yAxisID: "y",
      clip: false,
    };
    const chart = new Chart(ref.current, {
      type: "scatter",
      data: {
        datasets: [
          {
            ...scatterBase,
            label: "Hg0 at FGD Inlet",
            data: rowsToPoints(inletRows),
            backgroundColor: RED,
            borderColor: RED,
            order: 6,
          },
          {
            ...scatterBase,
            label: "Hg0 at FGD Outlet",
            data: rowsToPoints(outletRows),
            backgroundColor: BLUE,
            borderColor: BLUE,
            order: 4,
          },
          {
            type: "line",
            label: "Load",
            data: pairsToPoints(loadSeries),
            borderColor: "#000",
            backgroundColor: "#000",
            borderWidth: 5,
            pointRadius: 0,
            tension: 0,
            borderJoinStyle: "round",
            yAxisID: "y2",
            order: 2,
            clip: false,
          },
          {
            type: "line",
            label: "CaBr2",
            data: pairsToPoints(cabr2Series),
            borderColor: ORANGE,
            backgroundColor: ORANGE,
            borderWidth: 5,
            pointRadius: 0,
            tension: 0,
            yAxisID: "y2",
            order: 1,
            clip: false,
          },
          {
            type: "line",
            label: "inlet-zero",
            data: runsToPoints(inletZeroRuns) as any,
            borderColor: RED,
            borderWidth: 6.5,
            borderCapStyle: "butt",
            pointRadius: 0,
            spanGaps: false,
            yAxisID: "y",
            order: 5,
            clip: false,
          },
          {
            type: "line",
            label: "outlet-zero",
            data: runsToPoints(outletZeroRuns) as any,
            borderColor: BLUE,
            borderWidth: 6.5,
            borderCapStyle: "square",
            pointRadius: 0,
            spanGaps: false,
            yAxisID: "y",
            order: 3,
            clip: false,
          },
        ] as any,
      },
      options: {
        responsive: false,
        animation: false,
        devicePixelRatio: 1,
        layout: { padding: { top: 65, left: 0, right: 0, bottom: 0 } },
        plugins: { legend: { display: false }, tooltip: { enabled: false } },
        scales: {
          x: {
            type: "linear",
            min: 0,
            max: 15,
            afterFit: (s: any) => {
              s.height = 48;
            },
            border: { display: false },
            grid: { drawOnChartArea: false, drawTicks: true, tickLength: 6, color: AXIS, lineWidth: 1.5 },
            ticks: {
              stepSize: 1,
              autoSkip: false,
              maxRotation: 0,
              padding: 17,
              color: "#000",
              font: tickFont,
              callback: (v: any) => dayLabels[Math.round(Number(v))] ?? "",
            },
          },
          y: {
            type: "linear",
            position: "left",
            min: 0,
            max: 7,
            afterFit: (s: any) => {
              s.width = 106;
            },
            border: { display: true, color: AXIS, width: 2 },
            grid: { color: GRID, lineWidth: 1.5, drawTicks: true, tickLength: 8, tickColor: AXIS },
            ticks: {
              stepSize: 1,
              padding: 7,
              color: "#000",
              font: tickFont,
              callback: (v: any) => Number(v).toFixed(1),
            },
            title: {
              display: true,
              text: "Hg, µg/wscm",
              color: "#000",
              font: titleFont,
              padding: { top: 7, bottom: 0 },
            },
          },
          y2: {
            type: "linear",
            position: "right",
            min: 0,
            max: 600,
            afterFit: (s: any) => {
              s.width = 106;
            },
            border: { display: true, color: AXIS, width: 2 },
            grid: { drawOnChartArea: false, drawTicks: true, tickLength: 8, color: AXIS },
            ticks: { stepSize: 100, padding: 15, color: "#000", font: tickFont },
            title: {
              display: true,
              text: "Load, MW / CaBr2, ug/g",
              color: "#000",
              font: titleFont,
              padding: { top: 2, bottom: 0 },
            },
          },
        },
      },
      plugins: [legendPlugin],
    } as any);
    return () => chart.destroy();
  }, []);

  return (
    <div style={{ position: "fixed", left: 0, top: 0, width: 1356, height: 662, background: "#fff" }}>
      <canvas ref={ref} width={1356} height={662} style={{ display: "block", width: 1356, height: 662 }} />
    </div>
  );
}
